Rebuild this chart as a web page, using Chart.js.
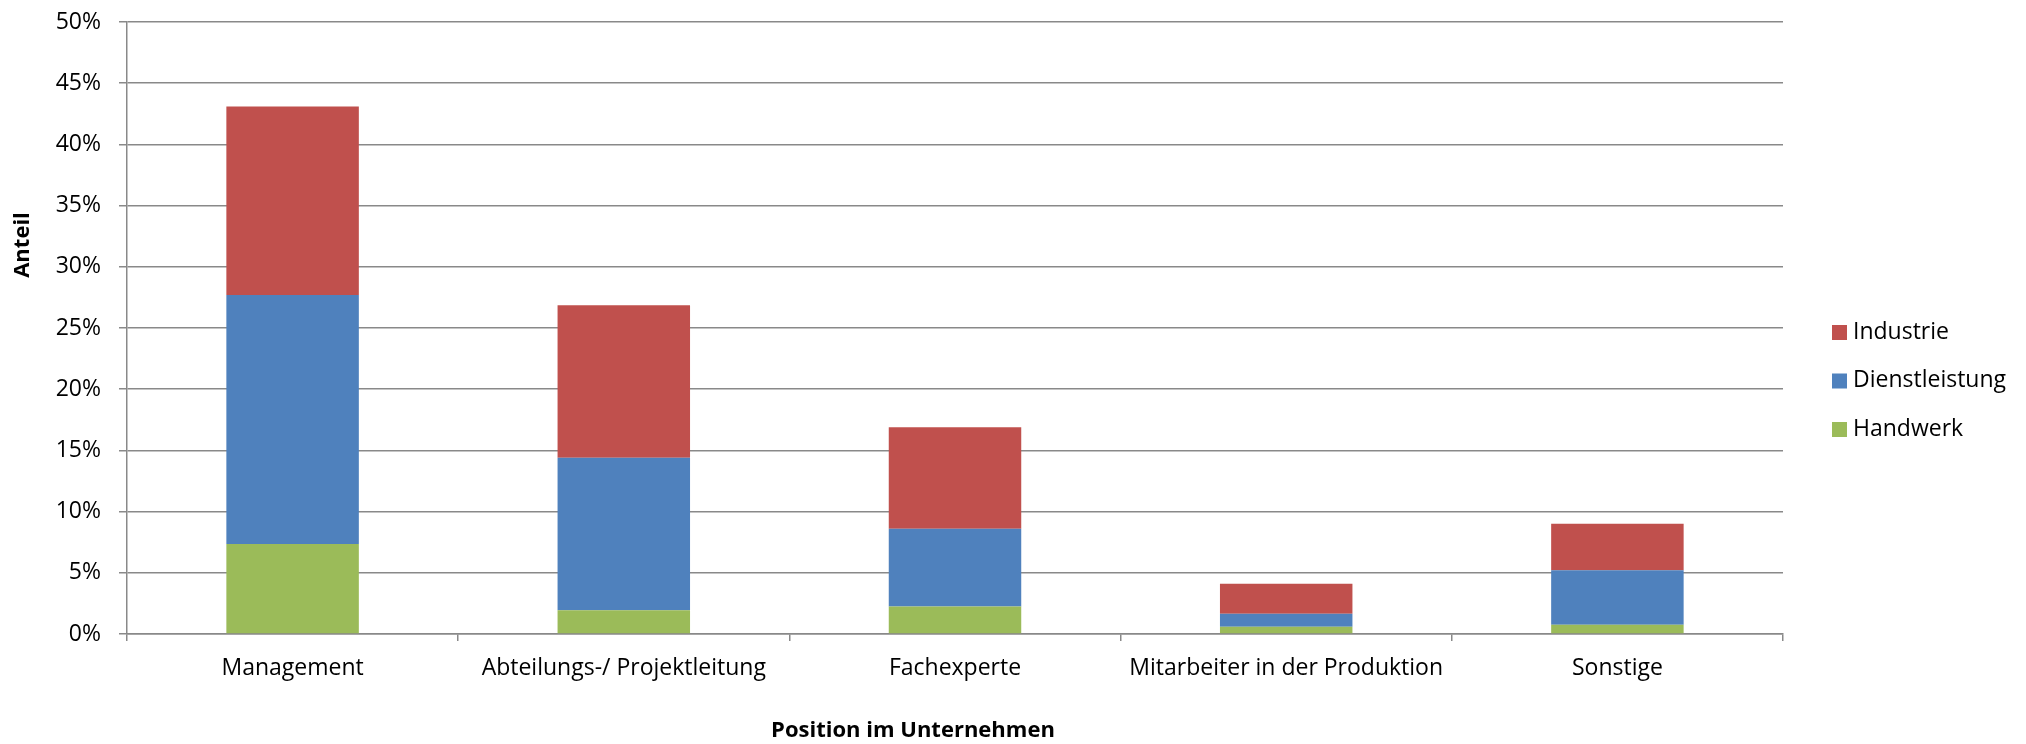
<!DOCTYPE html>
<html>
<head>
<meta charset="utf-8">
<title>Position im Unternehmen</title>
<script src="https://cdn.jsdelivr.net/npm/chart.js@4"></script>
<style>
    html, body { margin: 0; padding: 0; background: #ffffff; }
    #wrap { width: 2026px; height: 744px; }
</style>
</head>
<body>
<div id="wrap"><canvas id="chart" width="2026" height="744"></canvas></div>
<script>
let categories = ['Management', 'Abteilungs-/ Projektleitung', 'Fachexperte', 'Mitarbeiter in der Produktion', 'Sonstige'];

// Anteil in %
let handwerk = [7.35, 1.95, 2.25, 0.6, 0.75];
let dienstleistung = [20.35, 12.45, 6.35, 1.05, 4.45];
let industrie = [15.4, 12.45, 8.3, 2.45, 3.8];

let y_ticks = [0, 5, 10, 15, 20, 25, 30, 35, 40, 45, 50];

let title_x = 'Position im Unternehmen';
let title_y = 'Anteil';

let font_name = '"Open Sans", "Noto Sans", sans-serif';
let grid_color = '#898989';

// titles + legend like the excel original (not centered on the plot)
let extraText = {
    id: 'extraText',
    afterDraw: function (chart) {
        let ctx = chart.ctx;
        ctx.save();
        ctx.fillStyle = '#000000';
        ctx.font = 'bold 22px ' + font_name;
        ctx.textAlign = 'center';
        ctx.textBaseline = 'middle';
        ctx.fillText(title_x, 913, 731);

        ctx.translate(23, 245);
        ctx.rotate(-Math.PI / 2);
        ctx.fillText(title_y, 0, 0);
        ctx.restore();

        // legend, Industrie on top
        ctx.save();
        ctx.font = '23px ' + font_name;
        ctx.textAlign = 'left';
        ctx.textBaseline = 'middle';
        let sets = chart.data.datasets.slice().reverse();
        sets.forEach(function (ds, i) {
            let yy = 332 + i * 48.5;
            ctx.fillStyle = ds.backgroundColor;
            ctx.fillRect(1832, yy - 7, 15, 15);
            ctx.fillStyle = '#000000';
            ctx.fillText(ds.label, 1853, yy);
        });
        ctx.restore();
    }
};

let chartPosition = new Chart(document.getElementById("chart"), {
    type: 'bar',
    data: {
        labels: categories,
        datasets: [{
            label: 'Handwerk',
            data: handwerk,
            backgroundColor: '#9BBB59'
        }, {
            label: 'Dienstleistung',
            data: dienstleistung,
            backgroundColor: '#4F81BD'
        }, {
            label: 'Industrie',
            data: industrie,
            backgroundColor: '#C0504D'
        }]
    },
    options: {
        responsive: false,
        animation: false,
        maintainAspectRatio: false,
        layout: {
            padding: { left: 0, right: 243, top: 22, bottom: 0 }
        },
        datasets: {
            bar: {
                categoryPercentage: 1,
                barPercentage: 0.4,
                borderWidth: 0
            }
        },
        plugins: {
            legend: { display: false },
            title: { display: false },
            tooltip: { enabled: false }
        },
        scales: {
            x: {
                stacked: true,
                grid: {
                    drawOnChartArea: false,
                    drawTicks: true,
                    tickLength: 7,
                    color: grid_color,
                    lineWidth: 1.5
                },
                border: { color: grid_color, width: 1.5 },
                ticks: {
                    color: '#000000',
                    padding: 14,
                    maxRotation: 0,
                    autoSkip: false,
                    font: { family: font_name, size: 23 }
                },
                afterFit: function (scale) {
                    scale.height = 110;
                    scale.paddingLeft = 0;
                    scale.paddingRight = 0;
                }
            },
            y: {
                stacked: true,
                min: 0,
                max: 50,
                afterBuildTicks: function (scale) {
                    scale.ticks = y_ticks.map(function (v) { return { value: v }; });
                },
                grid: {
                    color: grid_color,
                    lineWidth: 1.5,
                    drawTicks: true,
                    tickLength: 8
                },
                border: { color: grid_color, width: 1.5 },
                ticks: {
                    color: '#000000',
                    padding: 18,
                    font: { family: font_name, size: 23 },
                    callback: function (value) { return value + '%'; }
                },
                afterFit: function (scale) {
                    scale.width = 127;
                    scale.paddingTop = 0;
                    scale.paddingBottom = 0;
                }
            }
        }
    },
    plugins: [extraText]
});
</script>
</body>
</html>
